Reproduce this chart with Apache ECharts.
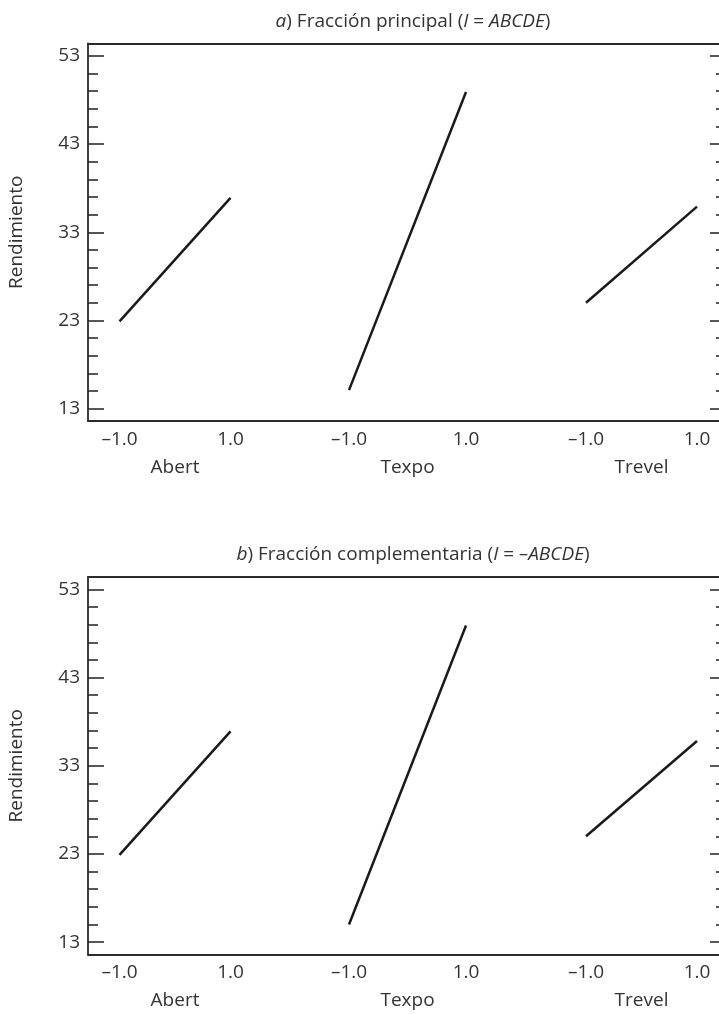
<!DOCTYPE html>
<html><head><meta charset="utf-8">
<script src="https://cdn.jsdelivr.net/npm/echarts@6/dist/echarts.min.js"></script>
<style>html,body{margin:0;padding:0;background:#fff}#c{width:719px;height:1014px}</style>
</head><body><div id="c"></div>
<script>
// ---- data ----
const factors = ['Abert', 'Texpo', 'Trevel'];
const levels = [-1, 1];
const xTickLabels = ['–1.0', '1.0'];
const yTickValues = [13, 23, 33, 43, 53];
const yMinorTickValues = [15, 17, 19, 21, 25, 27, 29, 31, 35, 37, 39, 41, 45, 47, 49, 51];
const yAxisName = 'Rendimiento';
const principalAbert = [22.9, 36.9];
const principalTexpo = [15.1, 48.9];
const principalTrevel = [25.0, 35.9];
const complementAbert = [22.9, 36.9];
const complementTexpo = [15.0, 48.9];
const complementTrevel = [25.0, 35.8];
const titleTexts = [
  '{i|a}) Fracción principal ({i|I} = {i|ABCDE})',
  '{i|b}) Fracción complementaria ({i|I} = {i|–ABCDE})'
];

// ---- layout / style ----
const FONT = 'Open Sans';
const FS = 19;
const TXT = '#333';
const AX = '#2b2b2b';
const LINE = '#1a1a1a';
const yMin = 11.6, yMax = 54.4;
const plotH = 377.5;
const chartTops = [43.5, 577];
const titleTops = [7, 540];
const panelCenters = [175, 407.5, 641.5];
const panelScale = [55.5, 58.5, 55.5];
const panelHalf = 87.5;

const fractions = [
  [principalAbert, principalTexpo, principalTrevel],
  [complementAbert, complementTexpo, complementTrevel]
];

const grid = [], xAxis = [], yAxis = [], series = [], title = [];
const axisLineStyle = { color: AX, width: 1.8 };

fractions.forEach((frac, k) => {
  const top = chartTops[k];
  title.push({
    text: titleTexts[k], left: 408, top: titleTops[k], textAlign: 'center',
    textStyle: { fontFamily: FONT, fontSize: FS, fontWeight: 'normal', color: TXT,
      rich: { i: { fontFamily: FONT, fontSize: FS, fontStyle: 'italic', color: TXT } } }
  });
  const fg = grid.length;
  grid.push({ left: 88, right: -7, top: top, height: plotH, outerBoundsMode: 'none' });
  ['top', 'bottom'].forEach(pos => xAxis.push({
    gridIndex: fg, type: 'value', position: pos, min: 0, max: 1,
    axisLine: { show: true, lineStyle: axisLineStyle }, axisTick: { show: false },
    axisLabel: { show: false }, splitLine: { show: false }
  }));
  const frameY = (pos, major) => ({
    gridIndex: fg, type: 'value', position: pos, offset: 0, min: yMin, max: yMax,
    axisLine: { show: major, lineStyle: axisLineStyle },
    axisTick: { show: true, inside: true, length: major ? 16 : 10,
      customValues: major ? yTickValues : yMinorTickValues,
      lineStyle: { color: AX, width: 1.6 } },
    axisLabel: { show: major && pos === 'left', customValues: yTickValues, margin: 8,
      fontFamily: FONT, fontSize: FS, color: TXT },
    splitLine: { show: false },
    name: (major && pos === 'left') ? yAxisName : '',
    nameLocation: 'middle', nameGap: 62,
    nameTextStyle: { fontFamily: FONT, fontSize: FS, color: TXT }
  });
  yAxis.push(frameY('left', true), frameY('left', false), frameY('right', true), frameY('right', false));

  factors.forEach((f, j) => {
    const gi = grid.length;
    const half = panelHalf / panelScale[j];
    grid.push({ left: panelCenters[j] - panelHalf, width: panelHalf * 2, top: top, height: plotH, outerBoundsMode: 'none' });
    const xi = xAxis.length;
    xAxis.push({
      gridIndex: gi, type: 'value', min: -half, max: half,
      axisLine: { show: false }, axisTick: { show: false }, splitLine: { show: false },
      axisLabel: { customValues: levels, margin: 9, fontFamily: FONT, fontSize: FS, color: TXT,
        formatter: v => xTickLabels[levels.indexOf(v)] },
      name: f, nameLocation: 'middle', nameGap: 37,
      nameTextStyle: { fontFamily: FONT, fontSize: FS, color: TXT }
    });
    const yi = yAxis.length;
    yAxis.push({ gridIndex: gi, type: 'value', min: yMin, max: yMax, show: false });
    series.push({
      type: 'line', xAxisIndex: xi, yAxisIndex: yi, silent: true, animation: false,
      symbol: 'none', lineStyle: { color: LINE, width: 2.5 },
      data: levels.map((l, i) => [l, frac[j][i]])
    });
  });
});

const chart = echarts.init(document.getElementById('c'), null, { renderer: 'canvas' });
chart.setOption({ animation: false, title, grid, xAxis, yAxis, series });
</script></body></html>
